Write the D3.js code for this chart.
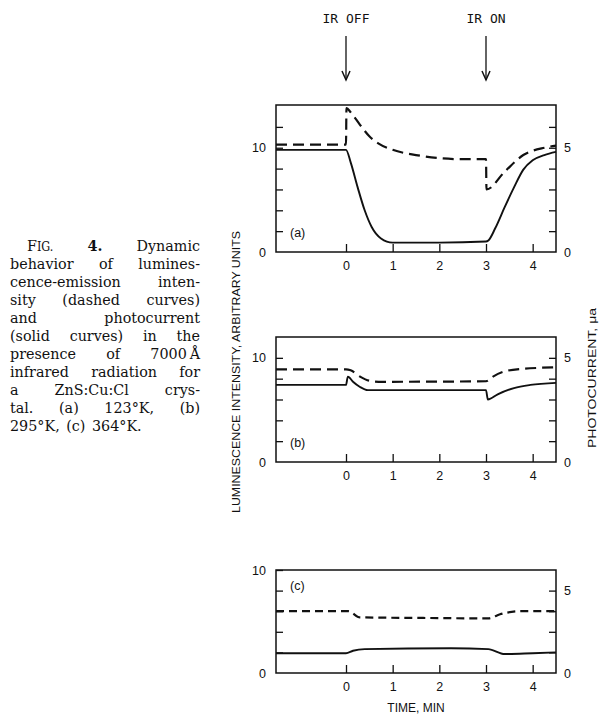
<!DOCTYPE html>
<html>
<head>
<meta charset="utf-8">
<script src="https://cdn.jsdelivr.net/npm/d3@7"></script>
<style>
  body { margin: 0; background: #fff; }
  .cap { font-family: 'DejaVu Serif', serif; font-size: 15.4px; fill: #111; }
  .tick text { font-family: 'Liberation Sans', Arial, sans-serif; font-size: 12.5px; fill: #111; }
  .tick line { stroke: #111; stroke-width: 1.3; }
  .lab { font-family: 'Liberation Sans', Arial, sans-serif; fill: #111; }
</style>
</head>
<body>
<svg id="fig" width="600" height="717"></svg>
<script>
// time axis, minutes
const timeDomain = [-1.5, 4.5];
const timeTicks = [0, 1, 2, 3, 4];

// (a) 123 K : luminescence (left units) and photocurrent (right units, ua)
const lumA = [[-1.5, 10.3], [0, 10.3], [0.01, 13.8], [0.1, 13.4], [0.3, 12.2], [0.5, 11.1], [0.7, 10.4],
  [1, 9.8], [1.5, 9.3], [2, 9.0], [2.5, 8.9], [3, 8.9], [3.01, 6.0], [3.4, 7.7], [3.8, 9.3], [4.25, 10.0], [4.5, 10.2]];
const pcA = [[-1.5, 4.9], [0, 4.9], [0.1, 4.3], [0.25, 3.1], [0.4, 2.0], [0.55, 1.2], [0.75, 0.65], [1, 0.45],
  [2, 0.45], [3, 0.5], [3.05, 0.55], [3.2, 1.15], [3.4, 2.15], [3.6, 3.1], [3.8, 3.95], [4, 4.4], [4.25, 4.65], [4.5, 4.8]];

// (b) 295 K
const lumB = [[-1.5, 8.9], [0, 8.9], [0.1, 8.8], [0.3, 8.2], [0.5, 7.8], [0.7, 7.7], [3, 7.75],
  [3.15, 8.2], [3.4, 8.7], [3.8, 8.95], [4.2, 9.05], [4.5, 9.1]];
const pcB = [[-1.5, 3.7], [0, 3.7], [0.04, 4.1], [0.15, 3.85], [0.3, 3.6], [0.47, 3.45], [3, 3.45],
  [3.04, 3.0], [3.25, 3.25], [3.6, 3.55], [3.95, 3.7], [4.5, 3.8]];

// (c) 364 K
const lumC = [[-1.5, 6.0], [0.05, 6.0], [0.3, 5.4], [1.5, 5.35], [3.05, 5.3], [3.3, 5.7], [3.75, 6.0], [4.5, 6.0]];
const pcC = [[-1.5, 1.2], [0, 1.2], [0.15, 1.35], [0.4, 1.45], [2.25, 1.5], [3.05, 1.45], [3.4, 1.15], [4.0, 1.2], [4.5, 1.25]];

// axis ranges and ticks per panel
const lumMax = [14.1, 12, 10];
const pcMax = [7.05, 6, 6.25];
const lumTicks = [[2, 4, 6, 8, 10, 12], [2, 4, 6, 8, 10], [2, 4, 6, 8, 10]];
const pcTicks = [[1, 2, 3, 4, 5, 6], [1, 2, 3, 4, 5], [1.25, 2.5, 3.75, 5]];
const lumLabels = [0, 10];
const pcLabels = [0, 5];
const panelNames = ['(a)', '(b)', '(c)'];

const captionLines = [
  'FIG. 4. Dynamic',
  'behavior of lumines-',
  'cence-emission inten-',
  'sity (dashed curves)',
  'and photocurrent',
  '(solid curves) in the',
  'presence of 7000\u2009\u00c5',
  'infrared radiation for',
  'a ZnS:Cu:Cl crys-',
  'tal. (a) 123\u00b0K, (b)',
  '295\u00b0K, (c) 364\u00b0K.'
];

const svg = d3.select('#fig');

const left = 276, right = 556;
const panelBox = [{top: 105, bottom: 252}, {top: 337, bottom: 462}, {top: 570, bottom: 673}];
const dashes = ['11,6', '11,6', '8,5'];

const x = d3.scaleLinear().domain(timeDomain).range([left, right]);

const panels = [
  {lum: lumA, pc: pcA}, {lum: lumB, pc: pcB}, {lum: lumC, pc: pcC}
];

panels.forEach((p, i) => {
  const box = panelBox[i];
  const yL = d3.scaleLinear().domain([0, lumMax[i]]).range([box.bottom, box.top]);
  const yR = d3.scaleLinear().domain([0, pcMax[i]]).range([box.bottom, box.top]);
  const g = svg.append('g');

  // left ticks point inward, only 0 and 10 get numbers
  const gl = g.append('g').attr('transform', `translate(${left},0)`)
    .call(d3.axisLeft(yL).tickValues([0].concat(lumTicks[i])).tickSizeInner(-7).tickSizeOuter(0).tickPadding(10)
      .tickFormat(d => lumLabels.includes(d) ? d : ''));
  gl.select('.domain').remove();
  gl.selectAll('.tick').filter(d => d === 0).select('line').remove();

  const gr = g.append('g').attr('transform', `translate(${right},0)`)
    .call(d3.axisRight(yR).tickValues([0].concat(pcTicks[i])).tickSizeInner(-7).tickSizeOuter(0).tickPadding(8)
      .tickFormat(d => pcLabels.includes(d) ? d : ''));
  gr.select('.domain').remove();
  gr.selectAll('.tick').filter(d => d === 0).select('line').remove();

  const gx = g.append('g').attr('transform', `translate(0,${box.bottom})`)
    .call(d3.axisBottom(x).tickValues(timeTicks).tickSizeInner(-8).tickSizeOuter(0).tickPadding(9)
      .tickFormat(d3.format('d')));
  gx.select('.domain').remove();

  // frame
  g.append('rect')
    .attr('x', left).attr('y', box.top)
    .attr('width', right - left).attr('height', box.bottom - box.top)
    .attr('fill', 'none').attr('stroke', '#111').attr('stroke-width', 1.5);

  g.append('text').attr('class', 'lab')
    .attr('x', left + 14)
    .attr('y', i === 2 ? box.top + 20 : box.bottom - 15)
    .style('font-size', '12.5px')
    .text(panelNames[i]);

  const lineL = d3.line().x(d => x(d[0])).y(d => yL(d[1])).curve(d3.curveMonotoneX);
  const lineR = d3.line().x(d => x(d[0])).y(d => yR(d[1])).curve(d3.curveMonotoneX);

  g.append('path').datum(p.lum)
    .attr('fill', 'none').attr('stroke', '#111').attr('stroke-width', 2.2)
    .attr('stroke-dasharray', dashes[i])
    .attr('d', lineL);

  g.append('path').datum(p.pc)
    .attr('fill', 'none').attr('stroke', '#111').attr('stroke-width', 1.9)
    .attr('d', lineR);
});

// IR markers above the top panel
const markers = [{t: 0, label: 'IR OFF'}, {t: 3, label: 'IR ON'}];
markers.forEach(m => {
  svg.append('text')
    .attr('x', x(m.t)).attr('y', 23)
    .attr('text-anchor', 'middle')
    .style('font-family', "'DejaVu Sans Mono', monospace").style('font-size', '13px').style('fill', '#111')
    .text(m.label);
  svg.append('line')
    .attr('x1', x(m.t)).attr('x2', x(m.t)).attr('y1', 36).attr('y2', 80)
    .attr('stroke', '#111').attr('stroke-width', 1.3);
  svg.append('path')
    .attr('d', `M${x(m.t) - 4},${71} L${x(m.t)},${80} L${x(m.t) + 4},${71}`)
    .attr('fill', 'none').attr('stroke', '#111').attr('stroke-width', 1.5);
});

// axis titles
svg.append('text').attr('class', 'lab')
  .attr('transform', 'translate(240,372) rotate(-90)')
  .attr('text-anchor', 'middle')
  .style('font-size', '11px')
  .attr('textLength', 282).attr('lengthAdjust', 'spacingAndGlyphs')
  .text('LUMINESCENCE INTENSITY, ARBITRARY UNITS');

svg.append('text').attr('class', 'lab')
  .attr('transform', 'translate(596,378) rotate(-90)')
  .attr('text-anchor', 'middle')
  .style('font-size', '10.5px')
  .attr('textLength', 140).attr('lengthAdjust', 'spacingAndGlyphs')
  .text('PHOTOCURRENT, \u03bca');

svg.append('text').attr('class', 'lab')
  .attr('x', 416).attr('y', 712)
  .attr('text-anchor', 'middle')
  .style('font-size', '12px')
  .text('TIME, MIN');

// justified caption on the left; glyphs squeezed a little horizontally
const capLeft = 10, capRight = 200, capTop = 251, capStep = 18, squeeze = 0.93;
captionLines.forEach((line, i) => {
  const x0 = capLeft + (i === 0 ? 17 : 0);
  const row = svg.append('g').attr('transform', `translate(${x0},${capTop + i * capStep}) scale(${squeeze},1)`);
  const words = line.split(' ');
  const nodes = words.map(w => {
    const t = row.append('text').attr('class', 'cap');
    if (w === 'FIG.') {
      t.append('tspan').text('F');
      t.append('tspan').style('font-size', '12px').text('IG.');
    } else if (w === '4.') {
      t.append('tspan').style('font-weight', 'bold').text(w);
    } else {
      t.text(w);
    }
    return t;
  });
  const widths = nodes.map(n => n.node().getComputedTextLength());
  const total = d3.sum(widths);
  const avail = (capRight - x0) / squeeze;
  const last = i === captionLines.length - 1;
  const gap = last ? 7 : (avail - total) / Math.max(1, words.length - 1);
  let cx = 0;
  nodes.forEach((n, k) => {
    n.attr('x', cx);
    cx += widths[k] + gap;
  });
});
</script>
</body>
</html>
